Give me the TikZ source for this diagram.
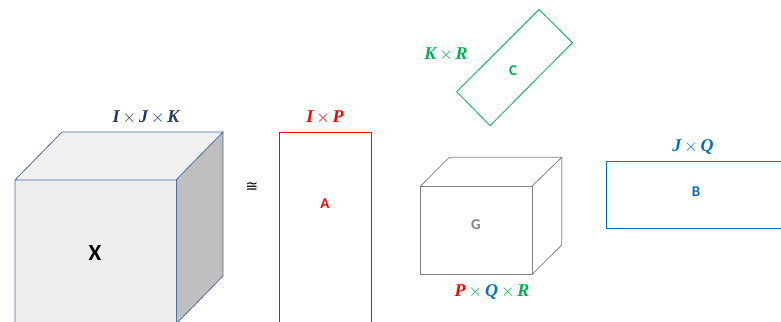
\documentclass[tikz,border=0pt]{standalone}
\usepackage{fontspec}
\setmainfont{Liberation Serif}
\newfontfamily\lblfont{Liberation Serif}
\newfontfamily\sansb{Carlito}
\newfontfamily\symfont{DejaVu Sans}
\definecolor{navy}{HTML}{1F3864}
\definecolor{cubeedge}{HTML}{4A6FA5}
\definecolor{frontfill}{HTML}{EDEDED}
\definecolor{topfill}{HTML}{F0F0F0}
\definecolor{sidefill}{HTML}{BFBFBF}
\definecolor{red1}{HTML}{FF0000}
\definecolor{green1}{HTML}{00B050}
\definecolor{blue1}{HTML}{0070C0}
\definecolor{gray1}{HTML}{808080}
\newcommand{\tms}{\,$\times$\,}
\begin{document}
\begin{tikzpicture}[x=1pt,y=-1pt,
  lbl/.style={font=\fontsize{18}{18}\selectfont\lblfont\bfseries\itshape, inner sep=0pt},
  letter/.style={font=\fontsize{15}{15}\selectfont\sansb\bfseries, inner sep=0pt},
  line width=0.8pt]
\useasboundingbox (0,0) rectangle (781,321);
% Big cube X
\begin{scope}
\clip (0,0) rectangle (781,321);
\fill[topfill] (15,180) -- (62,132) -- (223,132) -- (176,180) -- cycle;
\fill[sidefill] (176,180) -- (223,132) -- (223,276) -- (176,324) -- cycle;
\fill[frontfill] (15,180) rectangle (176,330);
\draw[cubeedge] (15,330) -- (15,180) -- (62,132) -- (223,132) -- (176,180) -- (15,180);
\draw[cubeedge] (176,330) -- (176,180);
\draw[cubeedge] (223,132) -- (223,276) -- (176,324);
\end{scope}
\node[font=\fontsize{23}{23}\selectfont\sansb\bfseries, inner sep=0pt] (X) at (95,253) {X};
\node[lbl, text=navy] (XL) at (146,117) {I\tms J\tms K};
\node[inner sep=0pt, font=\fontsize{15}{15}\selectfont\symfont] (cong) at (252,187) {≅};
% A
\begin{scope}
\clip (0,0) rectangle (781,321);
\draw[red1] (279,330) -- (279,132) -- (371,132) -- (371,330);
\end{scope}
\node[letter, text=red1] (A) at (325,204) {A};
\node[lbl, text=red1] (AL) at (325,117) {I\tms P};
% C
\draw[green1] (539,9.5) -- (572.5,42.7) -- (490,125.7) -- (456.7,91.7) -- cycle;
\node[letter, text=green1] (C) at (513,71) {C};
\node[lbl, text=green1] (CL) at (446,54) {K\tms R};
% G
\draw[gray1] (420.7,186) rectangle (532.3,274.3);
\draw[gray1] (420.7,186) -- (449.3,157.3) -- (561.7,157.3) -- (532.3,186);
\draw[gray1] (561.7,157.3) -- (561.7,245) -- (532.3,274.3);
\node[letter, text=gray1] (G) at (476,225) {G};
\node[lbl] (GL) at (492,292) {\textcolor{red1}{P}\textcolor{green1}{\tms}\textcolor{blue1}{Q}\textcolor{green1}{\tms}\textcolor{green1}{R}};
% B
\begin{scope}
\clip (0,0) rectangle (781,321);
\draw[blue1] (790,161) -- (606,161) -- (606,228) -- (790,228);
\end{scope}
\node[letter, text=blue1] (B) at (696,192) {B};
\node[lbl, text=blue1] (BL) at (693,147) {J\tms Q};
\end{tikzpicture}
\end{document}
